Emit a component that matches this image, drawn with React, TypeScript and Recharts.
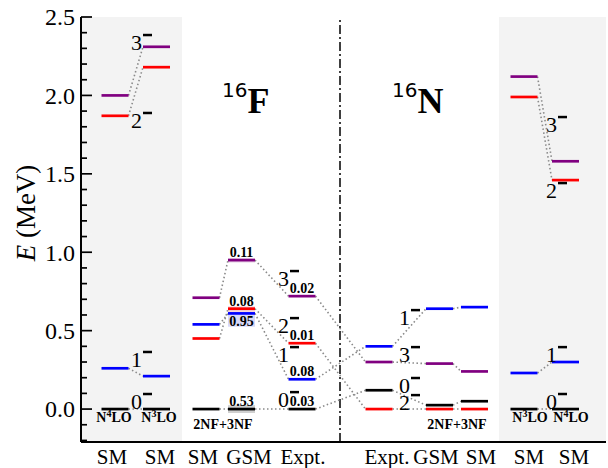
import React from 'react';
import { ComposedChart, XAxis, YAxis, Scatter, ReferenceLine, ReferenceArea, ReferenceDot } from 'recharts';

const SERIF = '"Liberation Serif", "Times New Roman", serif';
const SANS = '"DejaVu Sans", sans-serif';

// x positions: units measured from the left edge of the plot
const columnX = [34, 75.5, 125, 160.5, 221, 298, 358.5, 393.5, 443, 484.5];
const HALF = 13.5;

const bottomLabels = ['SM', 'SM', 'SM', 'GSM', 'Expt.', 'Expt.', 'GSM', 'SM', 'SM', 'SM'];
const bottomLabelX = [31, 79, 122, 168, 222, 306, 355, 400, 448, 493];

// level energies (MeV) per column
const E3 = [2.0, 2.31, 0.71, 0.95, 0.72, 0.3, 0.29, 0.24, 2.12, 1.58];
const E2 = [1.87, 2.18, 0.45, 0.64, 0.42, 0.0, 0.0, 0.0, 1.99, 1.46];
const E1 = [0.26, 0.21, 0.54, 0.61, 0.19, 0.4, 0.64, 0.65, 0.23, 0.3];
const E0 = [0.0, 0.0, 0.0, 0.0, 0.0, 0.12, 0.025, 0.05, 0.0, 0.0];

const states = [
  { name: '0-', color: '#000000', values: E0 },
  { name: '1-', color: '#0000ff', values: E1 },
  { name: '2-', color: '#ff0000', values: E2 },
  { name: '3-', color: '#800080', values: E3 },
];

const links = [[0, 1], [2, 3], [3, 4], [4, 5], [5, 6], [6, 7], [8, 9]];

// spin labels: J, dash x, dash E
const spinJ = ['3', '2', '1', '0', '3', '2', '1', '0', '1', '3', '0', '2', '3', '2', '1', '0'];
const spinX = [62, 62, 62, 62, 209, 209, 209, 209, 330, 330, 330, 330, 477, 477, 477, 477];
const spinE = [2.385, 1.888, 0.364, 0.096, 0.88, 0.58, 0.395, 0.108, 0.631, 0.395, 0.198, 0.089, 1.862, 1.441, 0.395, 0.096];

// widths (MeV) printed near GSM and Expt. levels of 16F
const widthText = ['0.11', '0.08', '0.95', '0.53', '0.02', '0.01', '0.08', '0.03'];
const widthCol = [3, 3, 3, 3, 4, 4, 4, 4];
const widthE = [0.95, 0.64, 0.61, 0.0, 0.72, 0.42, 0.19, 0.0];
const widthAbove = [true, true, false, true, true, true, true, true];

// width bands of GSM 16F
const bandLow = [-0.025, 0.525, 0.62, 0.935];
const bandHigh = [0.025, 0.615, 0.655, 0.96];
const bandFill = ['#d0d0d0', '#d8d8f8', '#f8d0d8', '#e0c8e0'];

const yMajor = [0, 0.5, 1, 1.5, 2, 2.5];
const yTicks = Array.from({ length: 28 }, (_, i) => Math.round((-0.2 + i * 0.1) * 10) / 10);

const levelData = states.flatMap((s) =>
  columnX.map((x, i) => ({ x, y: s.values[i], color: s.color }))
);

const isMajor = (v: number) => yMajor.some((m) => Math.abs(m - v) < 1e-6);

const LeftTick = (p: any) => {
  const v = p.payload.value;
  const major = isMajor(v);
  const len = major ? 11 : 6;
  return (
    <g>
      <line x1={p.x} x2={p.x + len} y1={p.y} y2={p.y} stroke="#000" strokeWidth={1.7} />
      {major && (
        <text x={p.x - 6} y={p.y} dy="0.35em" textAnchor="end" fontSize={24} fontFamily={SERIF} fill="#000">
          {v.toFixed(1)}
        </text>
      )}
    </g>
  );
};

const RightTick = (p: any) => {
  const v = p.payload.value;
  const len = isMajor(v) ? 11 : 6;
  return <line x1={p.x - len} x2={p.x} y1={p.y} y2={p.y} stroke="#000" strokeWidth={1.7} />;
};

const BottomTick = (p: any) => (
  <text x={p.x} y={p.y + 20} textAnchor="middle" fontSize={21} fontFamily={SERIF} fill="#000">
    {bottomLabels[p.index]}
  </text>
);

const YLabel = () => (
  <text x={26} y={213} transform="rotate(-90, 26, 213)" textAnchor="middle" dominantBaseline="central" fontSize={27} fontFamily={SERIF} fill="#000">
    <tspan fontStyle="italic">E</tspan> (MeV)
  </text>
);

const Level = (p: any) => (
  <line x1={p.cx - HALF} x2={p.cx + HALF} y1={p.cy} y2={p.cy} stroke={p.payload.color} strokeWidth={2.7} />
);

export default function App() {
  return (
    <div style={{ position: 'absolute', left: 0, top: 0, width: 608, height: 468, background: '#fff' }}>
      <ComposedChart width={608} height={468} margin={{ top: 17, right: 2, bottom: 0, left: 0 }}>
        <XAxis
          type="number"
          dataKey="x"
          domain={[0, 525]}
          ticks={bottomLabelX}
          interval={0}
          tick={<BottomTick />}
          tickLine={false}
          tickSize={0}
          height={26}
          axisLine={{ stroke: '#000', strokeWidth: 2 }}
          allowDataOverflow
        />
        <XAxis xAxisId="top" orientation="top" type="number" domain={[0, 525]} height={0} tick={false} tickLine={false} axisLine={{ stroke: '#000', strokeWidth: 2 }} />
        <YAxis
          type="number"
          dataKey="y"
          domain={[-0.21, 2.5]}
          ticks={yTicks}
          interval={0}
          width={81}
          tickSize={0}
          tickMargin={0}
          tickLine={false}
          tick={<LeftTick />}
          axisLine={{ stroke: '#000', strokeWidth: 2 }}
          allowDataOverflow
          label={<YLabel />}
        />
        <YAxis
          yAxisId="r"
          orientation="right"
          type="number"
          domain={[-0.21, 2.5]}
          ticks={yTicks}
          interval={0}
          width={0}
          tickSize={0}
          tickMargin={0}
          tickLine={false}
          tick={<RightTick />}
          axisLine={{ stroke: '#000', strokeWidth: 2 }}
          allowDataOverflow
        />

        <ReferenceArea x1={0} x2={101} y1={-0.21} y2={2.5} fill="#f3f3f3" fillOpacity={1} stroke="none" ifOverflow="visible" />
        <ReferenceArea x1={418} x2={525} y1={-0.21} y2={2.5} fill="#f3f3f3" fillOpacity={1} stroke="none" ifOverflow="visible" />

        {bandLow.map((lo, i) => (
          <ReferenceArea key={'band' + i} x1={columnX[3] - HALF} x2={columnX[3] + HALF} y1={lo} y2={bandHigh[i]} fill={bandFill[i]} fillOpacity={1} stroke="none" />
        ))}

        <ReferenceLine x={259} stroke="#000" strokeWidth={1.5} strokeDasharray="9 3 2 3" />

        {links.flatMap(([a, b]) =>
          states.map((s) => (
            <ReferenceLine
              key={`l${a}-${b}-${s.name}`}
              segment={[
                { x: columnX[a] + HALF, y: s.values[a] },
                { x: columnX[b] - HALF, y: s.values[b] },
              ]}
              stroke="#8a8a8a"
              strokeWidth={1.6}
              strokeDasharray="1.5 2.5"
            />
          ))
        )}

        <Scatter data={levelData} dataKey="y" isAnimationActive={false} shape={<Level />} />

        {spinJ.map((j, i) => (
          <ReferenceDot
            key={'s' + i}
            x={spinX[i]}
            y={spinE[i]}
            r={0}
            shape={(p: any) => (
              <g>
                <text x={p.cx - 1} y={p.cy + 15} textAnchor="end" fontSize={22} fontFamily={SERIF} fill="#000">{j}</text>
                <line x1={p.cx} x2={p.cx + 9} y1={p.cy} y2={p.cy} stroke="#000" strokeWidth={2.5} />
              </g>
            )}
          />
        ))}

        {widthText.map((t, i) => (
          <ReferenceDot
            key={'w' + i}
            x={columnX[widthCol[i]]}
            y={widthE[i]}
            r={0}
            shape={(p: any) => (
              <text x={p.cx} y={widthAbove[i] ? p.cy - 3 : p.cy + 13} textAnchor="middle" fontSize={14} fontWeight="bold" fontFamily={SERIF} fill="#000">{t}</text>
            )}
          />
        ))}

        <ReferenceDot x={141} y={1.888} r={0} shape={(p: any) => (
          <text x={p.cx} y={p.cy} fill="#000">
            <tspan fontFamily={SANS} fontSize={20} dy={-16}>16</tspan>
            <tspan fontFamily={SERIF} fontSize={36} fontWeight="bold" dy={16}>F</tspan>
          </text>
        )} />
        <ReferenceDot x={311} y={1.888} r={0} shape={(p: any) => (
          <text x={p.cx} y={p.cy} fill="#000">
            <tspan fontFamily={SANS} fontSize={20} dy={-16}>16</tspan>
            <tspan fontFamily={SERIF} fontSize={36} fontWeight="bold" dy={16}>N</tspan>
          </text>
        )} />

        {[
          { x: 142, t: '2NF+3NF' },
          { x: 376, t: '2NF+3NF' },
        ].map((o, i) => (
          <ReferenceDot key={'nf' + i} x={o.x} y={-0.13} r={0} shape={(p: any) => (
            <text x={p.cx} y={p.cy} textAnchor="middle" fontSize={14} fontWeight="bold" fontFamily={SERIF} fill="#000">{o.t}</text>
          )} />
        ))}

        {[
          { x: 33, n: '4' },
          { x: 78, n: '3' },
          { x: 449, n: '3' },
          { x: 490, n: '4' },
        ].map((o, i) => (
          <ReferenceDot key={'lo' + i} x={o.x} y={-0.085} r={0} shape={(p: any) => (
            <text x={p.cx} y={p.cy} textAnchor="middle" fontSize={14} fontWeight="bold" fontFamily={SERIF} fill="#000">
              N<tspan fontSize={10} dy={-5}>{o.n}</tspan><tspan dy={5}>LO</tspan>
            </text>
          )} />
        ))}
      </ComposedChart>
    </div>
  );
}
